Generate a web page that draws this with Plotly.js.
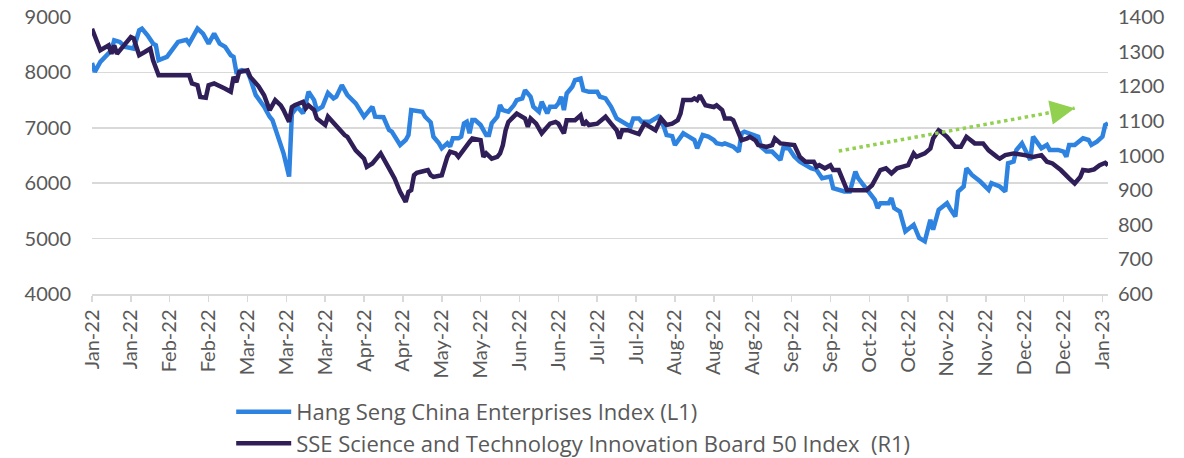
<!DOCTYPE html>
<html>
<head>
<meta charset="utf-8">
<script src="https://cdn.plot.ly/plotly-3.0.1.min.js"></script>
<style>
  html, body { margin: 0; padding: 0; background: #ffffff; }
  #chart { width: 1184px; height: 458px; }
</style>
</head>
<body>
<div id="chart"></div>
<script>
// Hang Seng China Enterprises Index (left axis)
var hsceiDates = [
  '2022-01-04','2022-01-05','2022-01-07','2022-01-09','2022-01-11','2022-01-12','2022-01-14','2022-01-16','2022-01-19','2022-01-21',
  '2022-01-22','2022-01-24','2022-01-26','2022-01-27','2022-01-28','2022-01-31','2022-02-04','2022-02-07','2022-02-08','2022-02-11',
  '2022-02-13','2022-02-15','2022-02-17','2022-02-19','2022-02-21','2022-02-23','2022-02-24','2022-02-25','2022-02-27','2022-03-01',
  '2022-03-02','2022-03-04','2022-03-07','2022-03-09','2022-03-10','2022-03-12','2022-03-14','2022-03-16','2022-03-17','2022-03-19',
  '2022-03-21','2022-03-22','2022-03-23','2022-03-25','2022-03-26','2022-03-28','2022-03-29','2022-03-30','2022-04-01','2022-04-02',
  '2022-04-04','2022-04-06','2022-04-09','2022-04-12','2022-04-13','2022-04-15','2022-04-16','2022-04-19','2022-04-21','2022-04-22',
  '2022-04-25','2022-04-27','2022-04-28','2022-04-29','2022-05-03','2022-05-04','2022-05-06','2022-05-07','2022-05-09','2022-05-10',
  '2022-05-12','2022-05-13','2022-05-14','2022-05-16','2022-05-17','2022-05-18','2022-05-19','2022-05-20','2022-05-21','2022-05-22',
  '2022-05-24','2022-05-26','2022-05-27','2022-05-28','2022-05-30','2022-05-31','2022-06-01','2022-06-03','2022-06-05','2022-06-06',
  '2022-06-08','2022-06-09','2022-06-11','2022-06-12','2022-06-14','2022-06-15','2022-06-17','2022-06-18','2022-06-20','2022-06-21',
  '2022-06-22','2022-06-23','2022-06-24','2022-06-26','2022-06-27','2022-06-29','2022-06-30','2022-07-02','2022-07-05','2022-07-06',
  '2022-07-08','2022-07-10','2022-07-12','2022-07-15','2022-07-17','2022-07-18','2022-07-20','2022-07-21','2022-07-24','2022-07-27',
  '2022-07-29','2022-07-30','2022-08-01','2022-08-02','2022-08-04','2022-08-05','2022-08-07','2022-08-09','2022-08-10','2022-08-12',
  '2022-08-14','2022-08-16','2022-08-17','2022-08-19','2022-08-20','2022-08-22','2022-08-23','2022-08-25','2022-08-26','2022-08-27',
  '2022-08-30','2022-09-01','2022-09-02','2022-09-04','2022-09-06','2022-09-09','2022-09-10','2022-09-12','2022-09-14','2022-09-16',
  '2022-09-20','2022-09-22','2022-09-24','2022-09-27','2022-09-28','2022-09-30','2022-10-02','2022-10-04','2022-10-06','2022-10-07',
  '2022-10-09','2022-10-11','2022-10-13','2022-10-14','2022-10-15','2022-10-18','2022-10-19','2022-10-20','2022-10-22','2022-10-24',
  '2022-10-26','2022-10-27','2022-10-29','2022-10-31','2022-11-02','2022-11-03','2022-11-05','2022-11-08','2022-11-09','2022-11-11',
  '2022-11-12','2022-11-14','2022-11-15','2022-11-17','2022-11-20','2022-11-23','2022-11-24','2022-11-27','2022-11-29','2022-11-30',
  '2022-12-02','2022-12-03','2022-12-05','2022-12-06','2022-12-08','2022-12-09','2022-12-11','2022-12-12','2022-12-14','2022-12-15',
  '2022-12-18','2022-12-20','2022-12-21','2022-12-22','2022-12-24','2022-12-27','2022-12-29','2022-12-30','2023-01-01','2023-01-03',
  '2023-01-04','2023-01-05'
];
var hsceiValues = [
  8170,8010,8190,8310,8400,8580,8550,8460,8430,8760,
  8790,8670,8520,8490,8220,8280,8550,8590,8520,8790,
  8700,8520,8700,8520,8460,8310,8280,8010,8040,8010,
  7890,7590,7380,7200,7140,6840,6540,6120,7250,7380,
  7260,7440,7650,7500,7320,7380,7500,7630,7530,7560,
  7770,7590,7440,7200,7260,7380,7200,7190,6960,6930,
  6690,6780,6870,7320,7290,7200,7100,6840,6720,6630,
  6720,6660,6810,6810,6840,7080,7110,6900,7140,7140,
  7050,6870,6870,7080,7200,7410,7320,7290,7410,7500,
  7530,7680,7560,7380,7290,7470,7260,7380,7380,7440,
  7560,7320,7620,7740,7860,7890,7680,7650,7650,7560,
  7530,7380,7170,7080,7020,7170,7170,7110,7110,7200,
  7020,6870,6850,6690,6840,6900,6840,6780,6630,6870,
  6840,6780,6720,6700,6720,6690,6660,6570,6900,6930,
  6870,6840,6660,6570,6570,6420,6630,6630,6480,6390,
  6270,6240,6090,6120,5910,5880,5850,5850,6210,6090,
  5970,5820,5700,5550,5640,5640,5730,5550,5490,5130,
  5220,5250,5010,4950,5340,5160,5520,5640,5550,5400,
  5850,5940,6270,6150,6030,5880,6000,5940,5850,6360,
  6390,6600,6720,6630,6420,6840,6720,6630,6690,6600,
  6600,6570,6480,6690,6690,6810,6780,6690,6750,6840,
  7050,7080
];

// SSE Science and Technology Innovation Board 50 Index (right axis)
var star50Dates = [
  '2022-01-04','2022-01-06','2022-01-07','2022-01-10','2022-01-11','2022-01-12','2022-01-13','2022-01-15','2022-01-18','2022-01-19',
  '2022-01-21','2022-01-23','2022-01-25','2022-01-26','2022-01-28','2022-01-30','2022-02-08','2022-02-09','2022-02-11','2022-02-12',
  '2022-02-14','2022-02-15','2022-02-17','2022-02-21','2022-02-23','2022-02-24','2022-02-25','2022-02-26','2022-03-01','2022-03-02',
  '2022-03-05','2022-03-07','2022-03-09','2022-03-11','2022-03-13','2022-03-14','2022-03-16','2022-03-17','2022-03-18','2022-03-21',
  '2022-03-22','2022-03-23','2022-03-25','2022-03-26','2022-03-29','2022-03-30','2022-04-02','2022-04-05','2022-04-06','2022-04-09',
  '2022-04-12','2022-04-13','2022-04-15','2022-04-18','2022-04-21','2022-04-23','2022-04-25','2022-04-27','2022-04-28','2022-04-29',
  '2022-04-30','2022-05-01','2022-05-04','2022-05-05','2022-05-06','2022-05-07','2022-05-10','2022-05-12','2022-05-13','2022-05-15',
  '2022-05-16','2022-05-18','2022-05-20','2022-05-21','2022-05-24','2022-05-25','2022-05-26','2022-05-28','2022-05-30','2022-05-31',
  '2022-06-01','2022-06-02','2022-06-03','2022-06-06','2022-06-09','2022-06-10','2022-06-11','2022-06-13','2022-06-15','2022-06-18',
  '2022-06-20','2022-06-21','2022-06-23','2022-06-24','2022-06-27','2022-06-29','2022-06-30','2022-07-01','2022-07-02','2022-07-05',
  '2022-07-08','2022-07-10','2022-07-12','2022-07-13','2022-07-14','2022-07-16','2022-07-18','2022-07-20','2022-07-22','2022-07-24',
  '2022-07-26','2022-07-28','2022-07-30','2022-08-01','2022-08-03','2022-08-04','2022-08-05','2022-08-08','2022-08-09','2022-08-10',
  '2022-08-11','2022-08-13','2022-08-16','2022-08-17','2022-08-19','2022-08-20','2022-08-22','2022-08-23','2022-08-25','2022-08-26',
  '2022-08-28','2022-08-29','2022-08-31','2022-09-01','2022-09-04','2022-09-06','2022-09-07','2022-09-09','2022-09-14','2022-09-16',
  '2022-09-18','2022-09-21','2022-09-22','2022-09-23','2022-09-25','2022-09-27','2022-09-28','2022-09-30','2022-10-03','2022-10-10',
  '2022-10-12','2022-10-13','2022-10-15','2022-10-17','2022-10-19','2022-10-21','2022-10-25','2022-10-27','2022-10-28','2022-10-31',
  '2022-11-02','2022-11-03','2022-11-05','2022-11-06','2022-11-08','2022-11-11','2022-11-13','2022-11-15','2022-11-17','2022-11-18',
  '2022-11-21','2022-11-23','2022-11-26','2022-11-27','2022-11-29','2022-12-02','2022-12-06','2022-12-09','2022-12-12','2022-12-14',
  '2022-12-16','2022-12-19','2022-12-22','2022-12-24','2022-12-26','2022-12-27','2022-12-29','2022-12-31','2023-01-02','2023-01-04',
  '2023-01-05'
];
var star50Values = [
  1366,1328,1304,1318,1294,1318,1294,1313,1342,1338,
  1290,1299,1309,1275,1232,1232,1232,1208,1203,1169,
  1167,1203,1208,1193,1184,1227,1212,1241,1246,1227,
  1200,1174,1131,1160,1145,1131,1097,1140,1145,1155,
  1136,1145,1131,1107,1088,1112,1083,1059,1054,1015,
  991,967,977,1006,963,934,895,866,895,900,
  943,950,956,958,943,938,943,996,1011,1006,
  996,1020,1039,1049,1044,996,1006,991,996,1006,
  1030,1073,1097,1121,1107,1083,1107,1092,1064,1092,
  1097,1092,1064,1102,1102,1116,1088,1097,1088,1092,
  1112,1092,1073,1049,1073,1073,1068,1062,1092,1083,
  1073,1107,1088,1092,1102,1121,1160,1160,1165,1160,
  1174,1145,1140,1145,1131,1107,1107,1102,1064,1044,
  1049,1054,1044,1030,1025,1030,1049,1035,1030,996,
  982,982,967,972,963,972,958,958,900,900,
  914,929,958,963,948,963,972,1006,996,1006,
  1020,1049,1073,1068,1054,1025,1025,1054,1039,1035,
  1035,1015,996,991,1001,1006,1001,996,1001,982,
  977,958,934,919,938,958,956,960,972,979,
  972
];

// X-axis ticks (every two weeks) and their labels
var tickDates = [
  '2022-01-04','2022-01-18','2022-02-01','2022-02-15','2022-03-01','2022-03-15','2022-03-29','2022-04-12','2022-04-26',
  '2022-05-10','2022-05-24','2022-06-07','2022-06-21','2022-07-05','2022-07-19','2022-08-02','2022-08-16','2022-08-30',
  '2022-09-13','2022-09-27','2022-10-11','2022-10-25','2022-11-08','2022-11-22','2022-12-06','2022-12-20','2023-01-03'
];
var tickLabels = [
  'Jan-22','Jan-22','Feb-22','Feb-22','Mar-22','Mar-22','Mar-22','Apr-22','Apr-22',
  'May-22','May-22','Jun-22','Jun-22','Jul-22','Jul-22','Aug-22','Aug-22','Aug-22',
  'Sep-22','Sep-22','Oct-22','Oct-22','Nov-22','Nov-22','Dec-22','Dec-22','Jan-23'
];

// Trend arrow (left-axis units)
var arrowStart = {date: '2022-09-30', value: 6580};
var arrowEnd = {date: '2022-12-24', value: 7355};

var FONT = 'Lato, "Open Sans", sans-serif';
var LEGFONT = '"Open Sans", Lato, sans-serif';
var GREY = '#595959';
var GRID = '#d9d9d9';

var traces = [
  {
    x: hsceiDates, y: hsceiValues, type: 'scatter', mode: 'lines',
    name: 'Hang Seng China Enterprises Index (L1)',
    line: {color: '#2E83E0', width: 4.5, shape: 'linear'},
    yaxis: 'y'
  },
  {
    x: star50Dates, y: star50Values, type: 'scatter', mode: 'lines',
    name: 'SSE Science and Technology Innovation Board 50 Index  (R1)',
    line: {color: '#2F1E57', width: 4.5, shape: 'linear'},
    yaxis: 'y2'
  }
];

var layout = {
  width: 1184, height: 458,
  margin: {l: 92, r: 76, t: 17, b: 164, autoexpand: false},
  paper_bgcolor: '#ffffff', plot_bgcolor: '#ffffff',
  font: {family: FONT, color: GREY, size: 20},
  showlegend: true,
  legend: {
    x: 0.137, y: -0.35, xanchor: 'left', yanchor: 'top',
    orientation: 'v', bgcolor: 'rgba(0,0,0,0)',
    font: {family: LEGFONT, size: 22, color: GREY},
    tracegroupgap: 0, itemwidth: 55
  },
  xaxis: {
    type: 'date', automargin: false,
    range: ['2022-01-04', '2023-01-05'],
    tickmode: 'array', tickvals: tickDates, ticktext: tickLabels,
    tickangle: -90,
    ticks: 'outside', ticklen: 6, tickcolor: GRID, tickwidth: 1.5,
    showline: true, linecolor: GRID, linewidth: 1.5,
    showgrid: false, zeroline: false,
    tickfont: {family: FONT, size: 20, color: GREY}
  },
  yaxis: {
    range: [4000, 9000], dtick: 1000, tick0: 0, automargin: false,
    showgrid: true, gridcolor: GRID, gridwidth: 1.5,
    zeroline: false, showline: false, ticks: '',
    ticklabelstandoff: 20,
    tickfont: {family: FONT, size: 20, color: GREY}
  },
  yaxis2: {
    overlaying: 'y', side: 'right', automargin: false,
    range: [600, 1400], dtick: 100, tick0: 0,
    showgrid: false, zeroline: false, showline: false, ticks: '',
    ticklabelstandoff: 9,
    tickfont: {family: FONT, size: 20, color: GREY}
  },
  shapes: [
    {
      type: 'line', xref: 'x', yref: 'y',
      x0: arrowStart.date, y0: arrowStart.value,
      x1: arrowEnd.date, y1: arrowEnd.value,
      line: {color: '#92D050', width: 3.5, dash: 'dot'}
    }
  ],
  annotations: [
    {
      xref: 'x', yref: 'y', x: arrowEnd.date, y: arrowEnd.value,
      text: '', showarrow: true,
      arrowhead: 2, arrowsize: 1.4, arrowwidth: 3.5, arrowcolor: '#92D050',
      ax: -18, ay: 3.3, standoff: 0, startstandoff: 0
    }
  ]
};

Plotly.newPlot('chart', traces, layout, {displayModeBar: false, staticPlot: true});
</script>
</body>
</html>
